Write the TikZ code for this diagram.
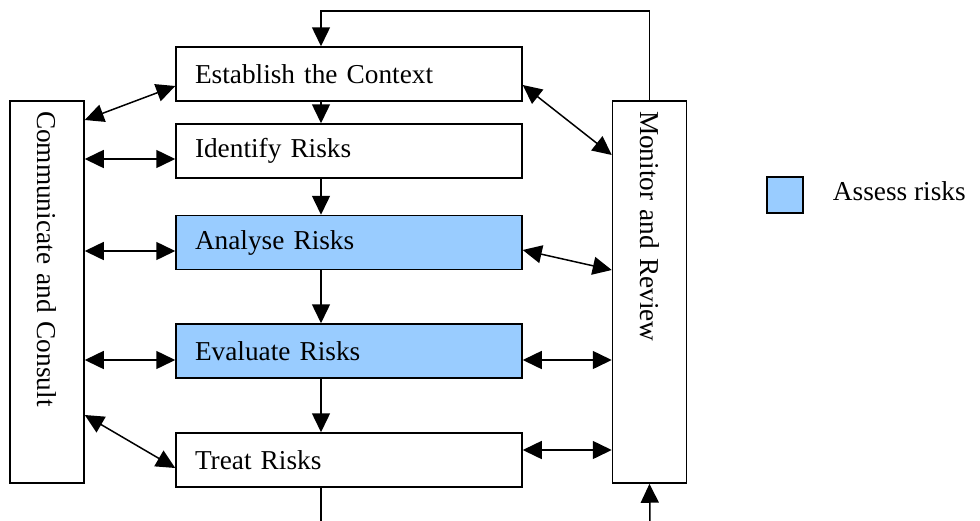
\documentclass[tikz,border=0pt]{standalone}
\usepackage{fontspec}
\setmainfont{Liberation Serif}
\usetikzlibrary{arrows.meta,positioning}
\definecolor{assessblue}{HTML}{99CCFF}

\begin{document}
\begin{tikzpicture}
 [x=1pt,y=1pt,
  process node/.style={rectangle,draw,line width=1.5pt,minimum width=346pt,minimum height=54pt,
    text width=308pt,inner xsep=19pt,align=left,font=\fontsize{27.3}{32}\selectfont},
  risk node/.style={process node,fill=assessblue},
  side node/.style={rectangle,draw,line width=1.5pt,rotate=-90,minimum width=382pt,minimum height=74pt,
    text width=362pt,inner xsep=10pt,align=left,font=\fontsize{27.3}{32}\selectfont},
  flow/.style={-{Triangle[length=19pt,width=18pt]},line width=1.5pt},
  both/.style={{Triangle[length=19pt,width=18pt]}-{Triangle[length=19pt,width=18pt]},line width=1.5pt}]

\useasboundingbox (0,0) rectangle (980,-520);

\node[process node] (est) at (349,-74) {Establish the Context};
\node[process node] (ident) [below of=est, node distance=77pt] {Identify Risks};
\node[risk node] (anal) [below of=ident, node distance=91.5pt] {Analyse Risks};
\node[risk node] (eval) [below of=anal, node distance=108.5pt] {Evaluate Risks};
\node[process node] (treat) [below of=eval, node distance=109pt] {Treat Risks};

\node[side node] (comm) at (47,-292) {Communicate and Consult};
\node[side node] (mon) at (649.5,-292) {Monitor and Review};

% legend
\node[rectangle,draw,line width=1.5pt,fill=assessblue,minimum size=36pt,inner sep=0pt] (legbox) at (785,-195) {};
\node[inner sep=0pt,font=\fontsize{27.3}{32}\selectfont,right=29pt of legbox,yshift=4pt] (legtext) {Assess risks};

\coordinate (spine) at (321,0);
\coordinate (looptop) at (321,-11);
\coordinate (treatout) at (321,-522);
\coordinate (monin) at (650,-522);

% main flow
\draw[flow] (mon.west) |- (looptop) -- (est.north -| spine);
\draw[flow] (est.south -| spine) -- (ident.north -| spine);
\draw[flow] (ident.south -| spine) -- (anal.north -| spine);
\draw[flow] (anal.south -| spine) -- (eval.north -| spine);
\draw[flow] (eval.south -| spine) -- (treat.north -| spine);
\draw[line width=1.5pt] (treat.south -| spine) -- (treatout);
\draw[flow] (monin) -- (mon.east);

% communicate and consult
\draw[both] (comm.north |- 0,-120) -- ([yshift=-12pt]est.west);
\draw[both] (comm.north |- 0,-159) -- ([yshift=-8pt]ident.west);
\draw[both] (comm.north |- 0,-251) -- ([yshift=-8.5pt]anal.west);
\draw[both] (comm.north |- 0,-360) -- ([yshift=-9pt]eval.west);
\draw[both] (comm.north |- 0,-415) -- ([yshift=-8pt]treat.west);

% monitor and review
\draw[both] ([yshift=-11pt]est.east) -- (mon.south |- 0,-155);
\draw[both] ([yshift=-7.5pt]anal.east) -- (mon.south |- 0,-270);
\draw[both] ([yshift=-9pt]eval.east) -- (mon.south |- 0,-360);
\draw[both] ([yshift=10pt]treat.east) -- (mon.south |- 0,-450);

\end{tikzpicture}
\end{document}
